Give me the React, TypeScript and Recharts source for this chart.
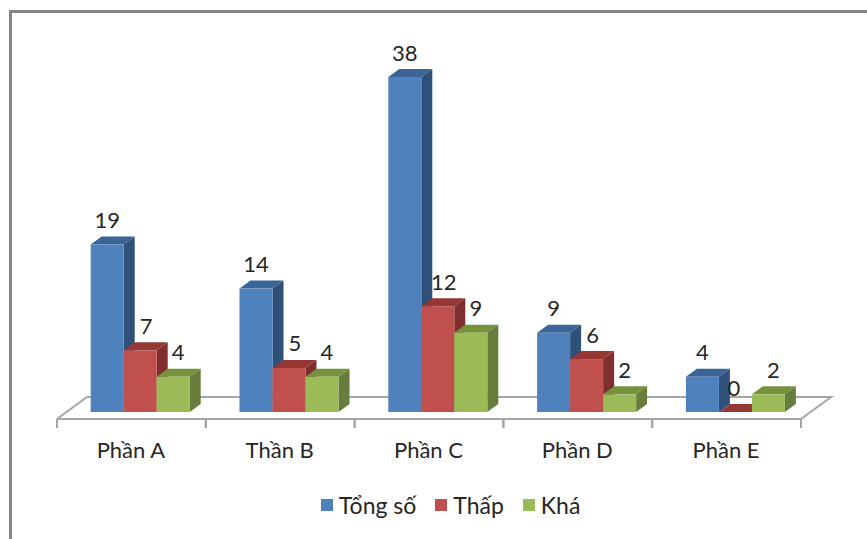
import { BarChart, Bar, XAxis, YAxis, Legend, LabelList } from 'recharts';

const categories = ['Phần A', 'Thần B', 'Phần C', 'Phần D', 'Phần E'];
const tongSo = [19, 14, 38, 9, 4];
const thap = [7, 5, 12, 6, 0];
const kha = [4, 4, 9, 2, 2];
const seriesNames = ['Tổng số', 'Thấp', 'Khá'];
const seriesColors = ['#4f81bd', '#c0504d', '#9bbb59'];

const data = categories.map((name, i) => ({
  name,
  'Tổng số': tongSo[i],
  Thấp: thap[i],
  Khá: kha[i],
}));

const FONT = 'Lato, "Noto Sans", sans-serif';
const TEXT = '#262626';
const GRID = '#a6a6a6';

const PLOT_LEFT = 57;
const PLOT_RIGHT = 801;
const BAND = (PLOT_RIGHT - PLOT_LEFT) / categories.length;
const SHIFT = 8.7; // bars sit right of the band centre
const DX = 11;
const DY = 8;

const Bar3D = (colors: { front: string; top: string; side: string }) => (props: any) => {
  const { y, width, height } = props;
  const x = props.x + SHIFT;
  return (
    <g>
      <path d={`M${x},${y} l${DX},${-DY} h${width} l${-DX},${DY} z`} fill={colors.top} />
      <path d={`M${x + width},${y} l${DX},${-DY} v${height} l${-DX},${DY} z`} fill={colors.side} />
      <rect x={x} y={y} width={width} height={height} fill={colors.front} />
    </g>
  );
};

const barLabel = (dx: number) => (props: any) => (
  <text
    x={props.x + props.width / 2 + SHIFT + (props.value === 0 ? -1.5 : dx)}
    y={props.y - 25}
    textAnchor="middle"
    dominantBaseline="central"
    fontFamily={FONT}
    fontSize={22}
    fill={TEXT}
  >
    {props.value}
  </text>
);

const CategoryTick = (props: any) => {
  const { x, y, payload } = props;
  return (
    <g>
      <line x1={x - BAND / 2} x2={x - BAND / 2} y1={y - 8} y2={y + 1} stroke={GRID} strokeWidth={2} />
      <line x1={x + BAND / 2} x2={x + BAND / 2} y1={y - 8} y2={y + 1} stroke={GRID} strokeWidth={2} />
      <text x={x - 0.5} y={y + 22} textAnchor="middle" dominantBaseline="central" fontFamily={FONT} fontSize={22} fill={TEXT}>
        {payload.value}
      </text>
    </g>
  );
};

const LegendRow = () => (
  <div style={{ display: 'flex', justifyContent: 'center', fontFamily: FONT, fontSize: 23, color: TEXT, paddingLeft: 43 }}>
    {seriesNames.map((name, i) => (
      <span key={name} style={{ display: 'flex', alignItems: 'center', marginRight: i < 2 ? 19 : 0 }}>
        <span style={{ width: 12, height: 12, background: seriesColors[i], marginRight: 6 }} />
        {name}
      </span>
    ))}
  </div>
);

const App = () => (
  <div style={{ position: 'absolute', left: 0, top: 0, width: 867, height: 539, background: '#fff', overflow: 'hidden' }}>
    <div style={{ position: 'absolute', left: 9, top: 10, width: 870, height: 560, border: '3px solid #868686', boxSizing: 'border-box' }} />
    <BarChart
      width={867}
      height={539}
      data={data}
      barSize={33}
      barGap={0}
      margin={{ top: 77, right: 66, bottom: 60, left: PLOT_LEFT }}
    >
      <path d="M57,419 L87,397 H831 L801,419" fill="none" stroke={GRID} strokeWidth={2} />
      <YAxis hide domain={[-0.794, 38]} />
      <XAxis
        dataKey="name"
        interval={0}
        height={60}
        axisLine={{ stroke: GRID, strokeWidth: 2 }}
        tickLine={false}
        tick={<CategoryTick />}
      />
      <Bar dataKey="Tổng số" fill="#4f81bd" isAnimationActive={false} shape={Bar3D({ front: '#4f81bd', top: '#3b6596', side: '#2f5079' })}>
        <LabelList content={barLabel(0)} />
      </Bar>
      <Bar dataKey="Thấp" fill="#c0504d" isAnimationActive={false} shape={Bar3D({ front: '#c0504d', top: '#953735', side: '#7e2f2d' })}>
        <LabelList content={barLabel(6)} />
      </Bar>
      <Bar dataKey="Khá" fill="#9bbb59" isAnimationActive={false} shape={Bar3D({ front: '#9bbb59', top: '#76923c', side: '#677d3b' })}>
        <LabelList content={barLabel(5)} />
      </Bar>
      <Legend verticalAlign="middle" wrapperStyle={{ top: 491 }} content={<LegendRow />} />
    </BarChart>
  </div>
);

export default App;
